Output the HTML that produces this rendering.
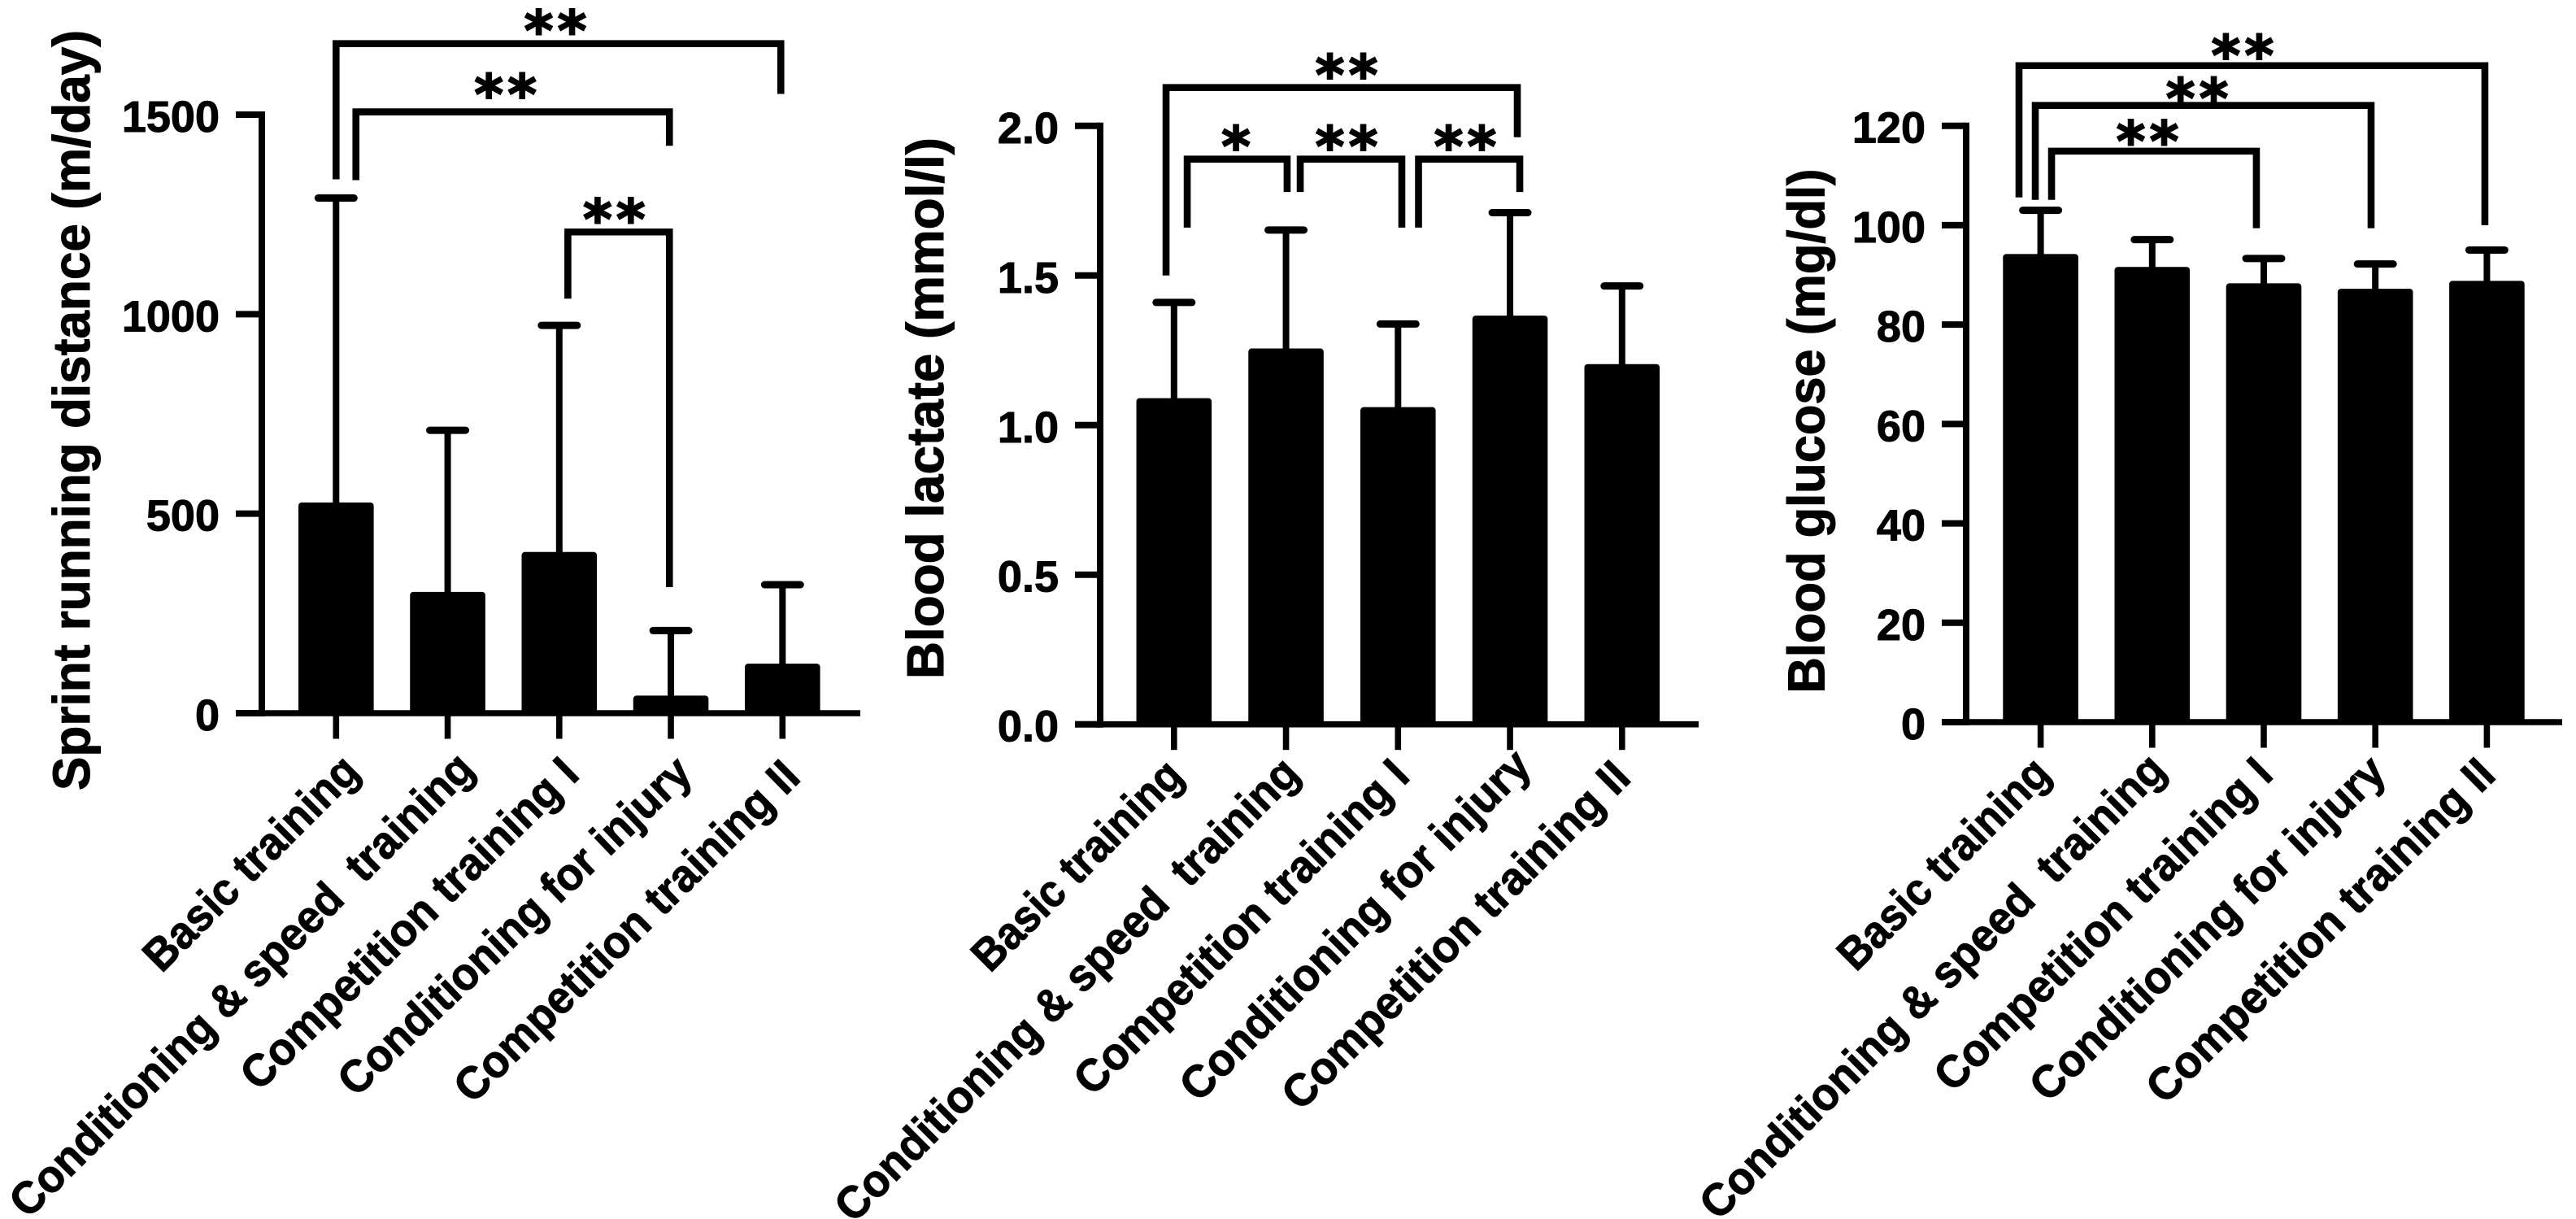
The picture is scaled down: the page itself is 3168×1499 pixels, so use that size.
<!DOCTYPE html>
<html lang="en">
<head>
<meta charset="utf-8">
<title>Training category charts</title>
<style>
html,body{margin:0;padding:0;background:#fff;}
svg{display:block;}
text{font-family:"Liberation Sans",sans-serif;font-weight:bold;fill:#000;stroke:#000;white-space:pre;}
</style>
</head>
<body>
<svg id="figure" xmlns="http://www.w3.org/2000/svg" width="3168" height="1499" viewBox="0 0 3168 1499"></svg>
<script>
// Shared categories
const categories = ["Basic training", "Conditioning & speed  training", "Competition training I", "Conditioning for injury", "Competition training II"];

// Sprint running distance
const sprintTicks = [0, 500, 1000, 1500];
const sprintMeans = [528, 304, 404, 44, 124];
const sprintErrors = [763, 405, 568, 163, 198];
const sprintBracketFrom = [0, 0.178, 2.077];
const sprintBracketTo = [3.985, 2.987, 2.987];
const sprintBracketTop = [1678, 1507, 1206];
const sprintBracketLeftEnd = [1338, 1336, 1039];
const sprintBracketRightEnd = [1552, 1422, 316];
const sprintBracketLabels = ["**", "**", "**"];
const sprintBracketLabelAt = [1.965, 1.518, 2.492];
const sprintBracketLabelLevel = [1733, 1573, 1261];

// Blood lactate
const lactateTicks = ["0.0", "0.5", "1.0", "1.5", "2.0"];
const lactateMeans = [1.09, 1.256, 1.06, 1.366, 1.204];
const lactateErrors = [0.32, 0.396, 0.278, 0.344, 0.261];
const lactateBracketFrom = [-0.071, 0.118, 1.127, 2.183];
const lactateBracketTo = [3.065, 1.01, 2.034, 3.087];
const lactateBracketTop = [2.128, 1.889, 1.889, 1.889];
const lactateBracketLeftEnd = [1.5, 1.66, 1.779, 1.66];
const lactateBracketRightEnd = [1.962, 1.779, 1.66, 1.779];
const lactateBracketLabels = ["**", "*", "**", "**"];
const lactateBracketLabelAt = [1.541, 0.553, 1.541, 2.6];
const lactateBracketLabelLevel = [2.2, 1.961, 1.961, 1.961];

// Blood glucose
const glucoseTicks = [0, 20, 40, 60, 80, 100, 120];
const glucoseMeans = [94.2, 91.6, 88.3, 87.2, 88.8];
const glucoseErrors = [8.8, 5.5, 5, 5, 6.2];
const glucoseBracketFrom = [-0.194, -0.048, 0.098];
const glucoseBracketTo = [3.982, 2.962, 1.934];
const glucoseBracketTop = [132.1, 124.1, 114.9];
const glucoseBracketLeftEnd = [105.6, 105.1, 105.1];
const glucoseBracketRightEnd = [100, 99.4, 99.4];
const glucoseBracketLabels = ["**", "**", "**"];
const glucoseBracketLabelAt = [1.81, 1.403, 0.958];
const glucoseBracketLabelLevel = [136, 127.3, 118.7];

const svg = document.getElementById('figure');
const NS = 'http://www.w3.org/2000/svg';

function make(tag, attrs, parent) {
  const node = document.createElementNS(NS, tag);
  for (const key in attrs) node.setAttribute(key, attrs[key]);
  parent.appendChild(node);
  return node;
}

function drawPanel(p) {
  const group = make('g', {}, svg);
  
  

  const maxTick = Number(p.ticks[p.ticks.length - 1]);
  const yPos = v => p.y0 - (p.y0 - p.yTop) * Number(v) / maxTick;
  const xPos = i => p.x0 + p.step * i;

  // Bars and error bars
  p.means.forEach((m, i) => {
    const cx = xPos(i);
    const top = yPos(m);
    const bar = make('rect', {x: cx - 46.3, y: top, width: 92.6, height: p.y0 - top, rx: 4, fill: '#000'}, group);
    
    

    const errTop = yPos(m + p.errors[i]);
    const stem = make('line', {x1: cx, x2: cx, y1: top + 2, y2: errTop, stroke: '#000', 'stroke-width': 8}, group);
    
    

    const cap = make('line', {x1: cx - 22, x2: cx + 22, y1: errTop, y2: errTop, stroke: '#000', 'stroke-width': 9, 'stroke-linecap': 'round'}, group);
    
    
  });

  // Y axis
  const yAxis = make('line', {x1: p.axisX, x2: p.axisX, y1: p.yTop - 4, y2: p.y0 + 4, stroke: '#000', 'stroke-width': 8}, group);
  
  

  p.ticks.forEach((t, i) => {
    const ty = yPos(t);
    const tick = make('line', {x1: p.tickLeft, x2: p.axisX, y1: ty, y2: ty, stroke: '#000', 'stroke-width': 8}, group);
    
    

    const label = make('text', {x: p.tickLeft - 20, y: ty + 21, 'text-anchor': 'end', 'font-size': 54, 'stroke-width': 1}, group);
    label.textContent = String(t);
    
    
  });

  // X axis
  const xAxis = make('line', {x1: p.tickLeft, x2: p.xEnd, y1: p.y0, y2: p.y0, stroke: '#000', 'stroke-width': 7.6}, group);
  
  

  categories.forEach((c, i) => {
    const cx = xPos(i);
    const tick = make('line', {x1: cx, x2: cx, y1: p.y0, y2: p.y0 + 31.5, stroke: '#000', 'stroke-width': 7.6}, group);
    
    
  });

  // Y axis title
  const title = make('text', {
    transform: 'translate(' + p.titleX + ',' + p.titleBottom + ') rotate(-90)',
    x: 0, y: 0, 'font-size': 64, 'stroke-width': 1, textLength: p.titleLength, lengthAdjust: 'spacingAndGlyphs'
  }, group);
  title.textContent = p.title;
  
  

  // Significance brackets
  p.bracketFrom.forEach((from, i) => {
    const xl = xPos(from);
    const xr = xPos(p.bracketTo[i]);
    const yt = yPos(p.bracketTop[i]);
    const yl = yPos(p.bracketLeftEnd[i]);
    const yr = yPos(p.bracketRightEnd[i]);
    const bracket = make('path', {
      d: 'M' + xl + ' ' + yl + 'V' + yt + 'H' + xr + 'V' + yr,
      fill: 'none', stroke: '#000', 'stroke-width': 8.6, 'stroke-linejoin': 'miter'
    }, group);
    
    

    const star = make('text', {
      x: xPos(p.bracketLabelAt[i]) + 2.7, y: yPos(p.bracketLabelLevel[i]) + 35,
      'text-anchor': 'middle', 'font-size': 68, 'letter-spacing': 5.4, 'stroke-width': 2,
      style: 'font-family:"DejaVu Sans",sans-serif'
    }, group);
    star.textContent = p.bracketLabels[i];
    
    
  });

  return {group: group, xPos: xPos, y0: p.y0, name: p.name};
}

// Rotated category label: dx/dy place the end of the baseline relative to the tick, len is the drawn length, angle the tilt
function addCategoryLabel(panel, i, dx, dy, len, angle) {
  const ex = panel.xPos(i) + dx;
  const ey = panel.y0 + dy;
  const label = make('text', {
    transform: 'translate(' + ex + ',' + ey + ') rotate(' + (-angle) + ')',
    x: 0, y: 0, 'text-anchor': 'end', 'font-size': 56, 'stroke-width': 1,
    textLength: len, lengthAdjust: 'spacingAndGlyphs'
  }, panel.group);
  label.textContent = categories[i];
  
  
}

const sprintPanel = drawPanel({
  name: 'sprint', ticks: sprintTicks, means: sprintMeans, errors: sprintErrors,
  x0: 413.3, step: 137.25, y0: 877, yTop: 141, axisX: 322, tickLeft: 290, xEnd: 1058,
  title: 'Sprint running distance (m/day)', titleX: 110, titleBottom: 972, titleLength: 935,
  bracketFrom: sprintBracketFrom, bracketTo: sprintBracketTo, bracketTop: sprintBracketTop,
  bracketLeftEnd: sprintBracketLeftEnd, bracketRightEnd: sprintBracketRightEnd,
  bracketLabels: sprintBracketLabels, bracketLabelAt: sprintBracketLabelAt, bracketLabelLevel: sprintBracketLabelLevel
});

const lactatePanel = drawPanel({
  name: 'lactate', ticks: lactateTicks, means: lactateMeans, errors: lactateErrors,
  x0: 1443.8, step: 137.75, y0: 890.7, yTop: 154.8, axisX: 1353, tickLeft: 1322, xEnd: 2089,
  title: 'Blood lactate (mmol/l)', titleX: 1160, titleBottom: 835, titleLength: 666,
  bracketFrom: lactateBracketFrom, bracketTo: lactateBracketTo, bracketTop: lactateBracketTop,
  bracketLeftEnd: lactateBracketLeftEnd, bracketRightEnd: lactateBracketRightEnd,
  bracketLabels: lactateBracketLabels, bracketLabelAt: lactateBracketLabelAt, bracketLabelLevel: lactateBracketLabelLevel
});

const glucosePanel = drawPanel({
  name: 'glucose', ticks: glucoseTicks, means: glucoseMeans, errors: glucoseErrors,
  x0: 2509.6, step: 137.2, y0: 888, yTop: 154.7, axisX: 2418, tickLeft: 2388, xEnd: 3151,
  title: 'Blood glucose (mg/dl)', titleX: 2243.5, titleBottom: 852.5, titleLength: 645,
  bracketFrom: glucoseBracketFrom, bracketTo: glucoseBracketTo, bracketTop: glucoseBracketTop,
  bracketLeftEnd: glucoseBracketLeftEnd, bracketRightEnd: glucoseBracketRightEnd,
  bracketLabels: glucoseBracketLabels, bracketLabelAt: glucoseBracketLabelAt, bracketLabelLevel: glucoseBracketLabelLevel
});

addCategoryLabel(sprintPanel, 0, 31.5, 74.5, 348, 45);
addCategoryLabel(sprintPanel, 1, 35.5, 71.5, 780, 45);
addCategoryLabel(sprintPanel, 2, 27, 78, 555, 44.4);
addCategoryLabel(sprintPanel, 3, 29, 77, 575, 43.6);
addCategoryLabel(sprintPanel, 4, 24.5, 81.5, 570, 44.6);

addCategoryLabel(lactatePanel, 0, 14.2, 66.3, 340, 45);
addCategoryLabel(lactatePanel, 1, 19.4, 63.4, 780, 45);
addCategoryLabel(lactatePanel, 2, 16.7, 66.3, 555, 45);
addCategoryLabel(lactatePanel, 3, 28.9, 54.2, 583, 45);
addCategoryLabel(lactatePanel, 4, 13.2, 68.3, 578, 45);

addCategoryLabel(glucosePanel, 0, 14.7, 66.3, 342, 45);
addCategoryLabel(glucosePanel, 1, 19.4, 61.6, 782, 45);
addCategoryLabel(glucosePanel, 2, 13.8, 67.2, 556, 44.5);
addCategoryLabel(glucosePanel, 3, 15.9, 65, 582, 44);
addCategoryLabel(glucosePanel, 4, 13.2, 67.9, 575, 44.6);
</script>
</body>
</html>
